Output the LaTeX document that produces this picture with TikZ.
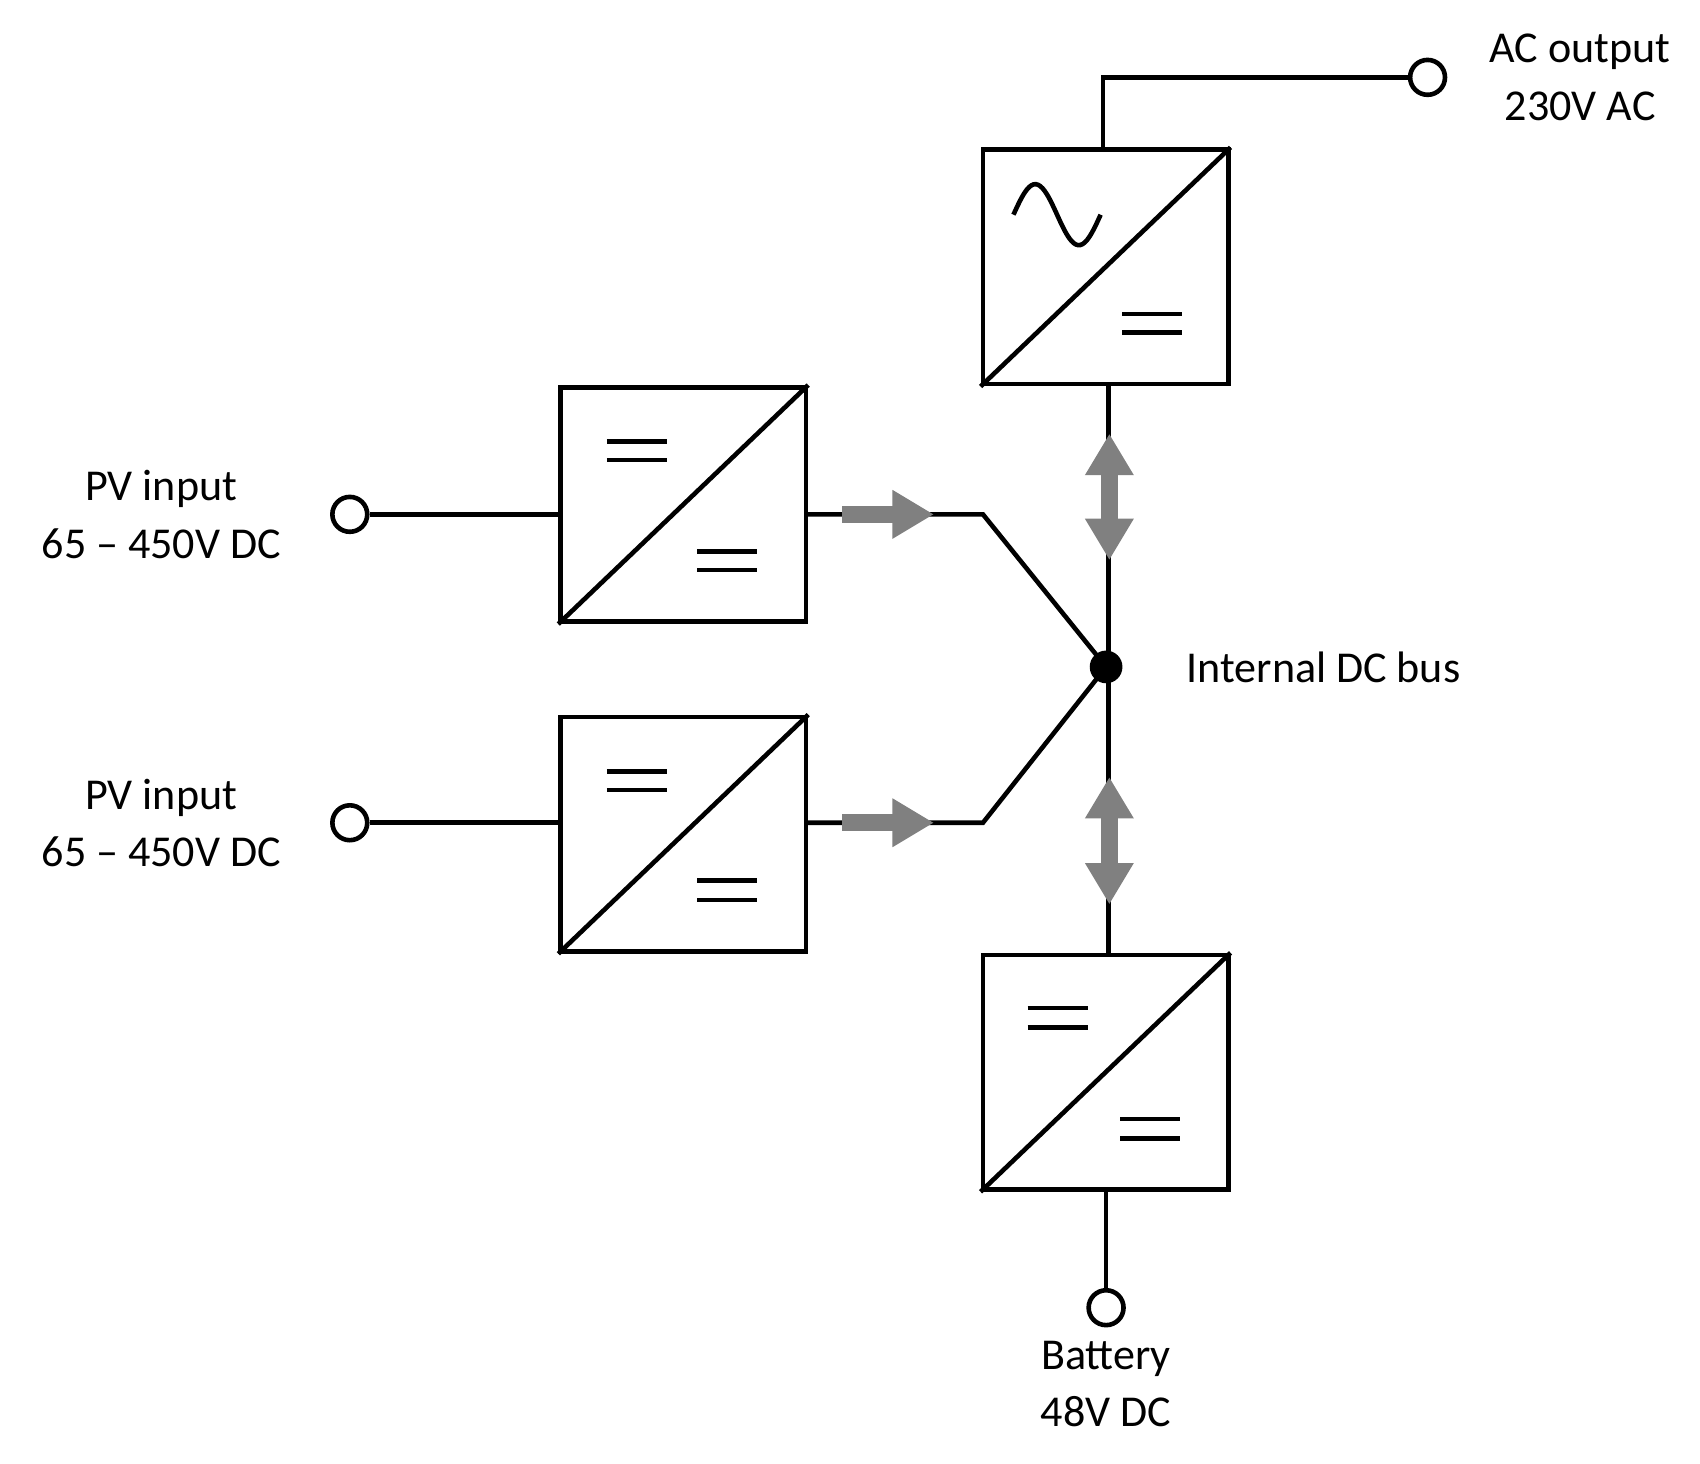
\documentclass[tikz,border=0pt]{standalone}
\usepackage{fontspec}
\setmainfont{Carlito}
\usetikzlibrary{arrows.meta}
\begin{document}
\begin{tikzpicture}[x=0.01cm,y=-0.01cm,line width=1.2pt,
  conv/.style={draw,line width=1.2pt,minimum width=2.25cm,minimum height=2.15cm,inner sep=0},
  term/.style={circle,draw,fill=white,line width=1.2pt,minimum size=0.32cm,inner sep=0},
  lbl/.style={font=\fontsize{11.5pt}{15pt}\selectfont,align=center},
  flow/.style={draw=gray,line width=0.16cm,-{Triangle[width=0.42cm,length=0.38cm]}},
  flow2/.style={draw=gray,line width=0.16cm,{Triangle[width=0.42cm,length=0.38cm]}-{Triangle[width=0.42cm,length=0.38cm]}}]
\useasboundingbox (0,0) rectangle (1560,1343);
% boxes
\node[conv] (ac) at (1014.5,245) {};
\node[conv] (pv1) at (627,463) {};
\node[conv] (pv2) at (627,765.5) {};
\node[conv] (bat) at (1014.5,984) {};
\foreach \b in {ac,pv1,pv2,bat} \draw (\b.south west) -- (\b.north east);
% symbols
\draw plot[domain=0:1,samples=40,smooth] ({930+80*\x},{197-28*sin(360*\x)});
\foreach \x/\y in {1030/288,1030/305,557/405,557/422,640/506,640/523,557/708,557/725,640/808,640/826,943/925,943/943,1028/1027,1028/1045}
  \draw (\x,\y) -- ++(55,0);
% bus
\node[circle,fill=black,minimum size=0.3cm,inner sep=0] (bus) at (1015,612) {};
\draw (ac.south -| 1017,0) -- (bat.north -| 1017,0);
% terminals
\node[term] (t1) at (321,472) {};
\node[term] (t2) at (321,755) {};
\node[term] (tac) at (1310,71) {};
\node[term] (tb) at (1015,1200) {};
\draw (t1) -- (t1 -| pv1.west);
\draw (t2) -- (t2 -| pv2.west);
\coordinate (k1) at (902,472);
\coordinate (k2) at (902,755);
\draw (t1 -| pv1.east) -- (k1) -- (bus.center);
\draw (t2 -| pv2.east) -- (k2) -- (bus.center);
\draw (ac.north -| 1012,0) |- (tac);
\draw (tb) -- (tb |- bat.south);
% flow arrows
\draw[flow] (773,472) -- (857,472);
\draw[flow] (773,755) -- (857,755);
\draw[flow2] (1018,398) -- (1018,514);
\draw[flow2] (1018,713) -- (1018,830);
% labels
\node[lbl] (l1) at (148,472) {PV input\\65 – 450V DC};
\node[lbl] (l2) at (148,755) {PV input\\65 – 450V DC};
\node[lbl] (lac) at (1450,71) {AC output\\230V AC};
\node[lbl] (lb) at (1015,1270) {Battery\\48V DC};
\node[lbl,anchor=west] (lbus) at (1075,612) {Internal DC bus};
\end{tikzpicture}
\end{document}
